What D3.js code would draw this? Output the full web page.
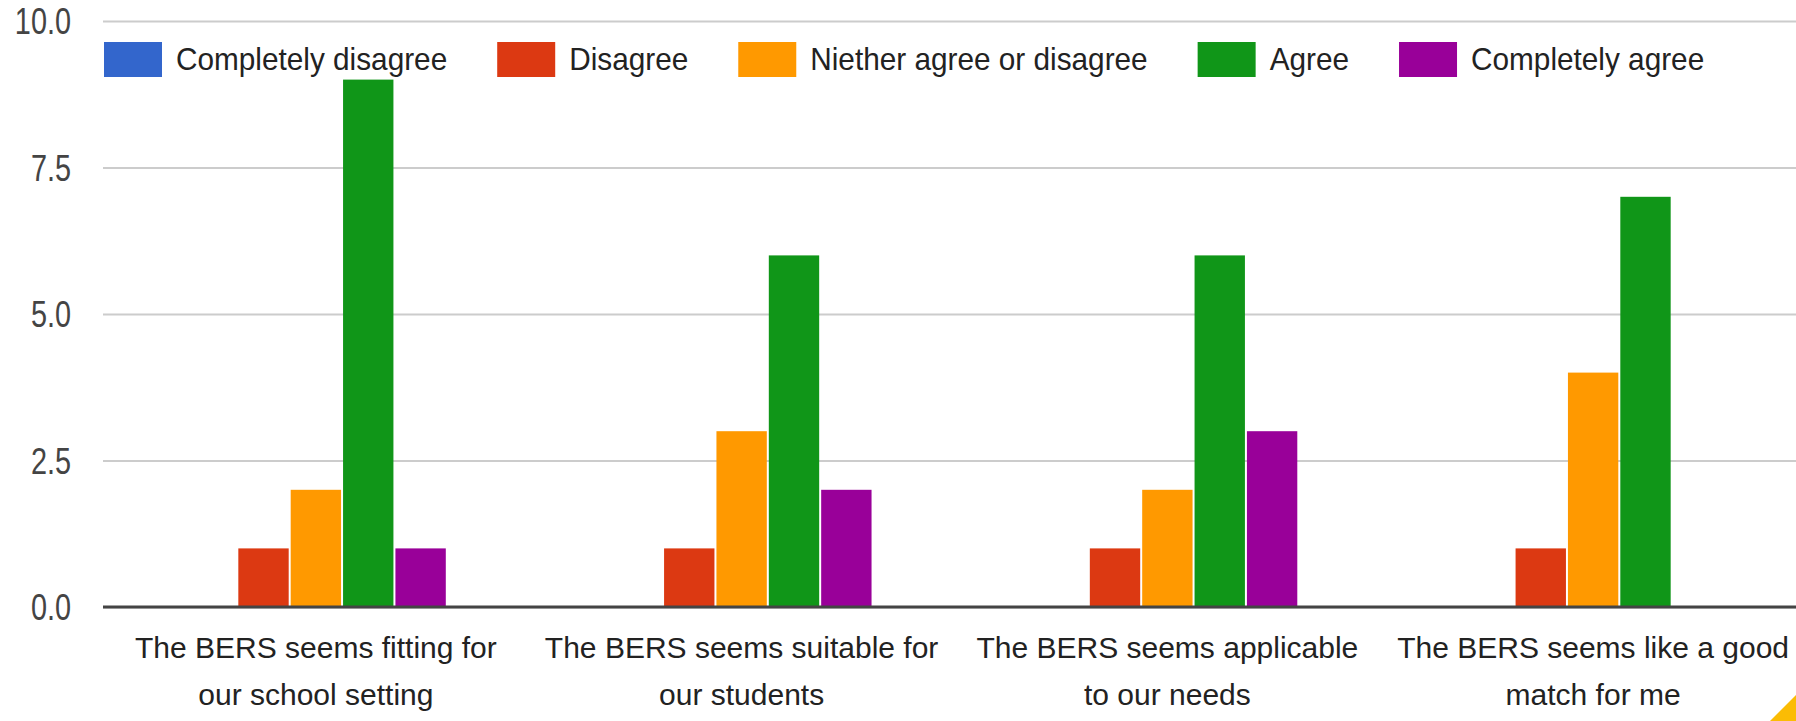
<!DOCTYPE html>
<html>
<head>
<meta charset="utf-8">
<script src="https://cdn.jsdelivr.net/npm/d3@7"></script>
<style>
  html, body { margin: 0; padding: 0; background: #ffffff; }
  svg { display: block; }
  text { font-family: "Liberation Sans", Arial, Helvetica, sans-serif; }
</style>
</head>
<body>
<svg id="chart" width="1796" height="721"></svg>
<script>
// Survey statements (two-line labels under each group)
const categories = [
  ["The BERS seems fitting for", "our school setting"],
  ["The BERS seems suitable for", "our students"],
  ["The BERS seems applicable", "to our needs"],
  ["The BERS seems like a good", "match for me"]
];

// Response options (series)
const seriesNames = [
  "Completely disagree",
  "Disagree",
  "Niether agree or disagree",
  "Agree",
  "Completely agree"
];

// Number of responses per statement, one array per response option
const completelyDisagree = [0, 0, 0, 0];
const disagree           = [1, 1, 1, 1];
const neither            = [2, 3, 2, 4];
const agree              = [9, 6, 6, 7];
const completelyAgree    = [1, 2, 3, 0];

const seriesColors = ["#3366cc", "#dc3912", "#ff9900", "#109618", "#990099"];

const yTicks = [0, 2.5, 5, 7.5, 10];

// Build rows for drawing
const seriesValues = [completelyDisagree, disagree, neither, agree, completelyAgree];
const rows = categories.map((c, i) => ({
  key: i,
  label: c,
  values: seriesNames.map((s, j) => ({ series: s, idx: j, value: seriesValues[j][i] }))
}));

const W = 1796, H = 721;
const plotLeft = 103, plotRight = 1806, plotTop = 21, plotBottom = 607;

const svg = d3.select("#chart");

svg.append("rect").attr("width", W).attr("height", H).attr("fill", "#ffffff");

const x0 = d3.scaleBand()
  .domain(rows.map(r => r.key))
  .range([plotLeft, plotRight])
  .paddingInner(0.385)
  .paddingOuter(0.1925);

const x1 = d3.scaleBand()
  .domain(d3.range(seriesNames.length))
  .range([0, x0.bandwidth()]);

const y = d3.scaleLinear().domain([0, 10]).range([plotBottom, plotTop]);

// Gridlines and tick labels (labels are set in a narrow, tall face)
const tickSqueeze = 0.78;
const yAxis = d3.axisLeft(y)
  .tickValues(yTicks)
  .tickFormat(d3.format(".1f"))
  .tickSize(-(W - plotLeft))
  .tickPadding(32);

const gy = svg.append("g")
  .attr("transform", `translate(${plotLeft},0)`)
  .call(yAxis);

gy.select(".domain").remove();
gy.selectAll(".tick line")
  .attr("stroke", "#cccccc")
  .attr("stroke-width", 2);
gy.selectAll(".tick text")
  .attr("x", -32 / tickSqueeze)
  .attr("dy", "0.35em")
  .attr("transform", `scale(${tickSqueeze},1)`)
  .attr("fill", "#444444")
  .style("font-size", "37px")
  .style("font-family", "'Liberation Sans', Arial, sans-serif");

// Bars
const groups = svg.append("g")
  .selectAll("g")
  .data(rows)
  .join("g")
  .attr("transform", d => `translate(${x0(d.key)},0)`);

groups.selectAll("rect")
  .data(d => d.values.filter(v => v.value > 0))
  .join("rect")
  .attr("x", d => x1(d.idx) + 1)
  .attr("width", x1.bandwidth() - 2)
  .attr("y", d => y(d.value))
  .attr("height", d => y(0) - y(d.value))
  .attr("fill", d => seriesColors[d.idx]);

// Baseline
svg.append("line")
  .attr("x1", plotLeft).attr("x2", W)
  .attr("y1", y(0)).attr("y2", y(0))
  .attr("stroke", "#444444")
  .attr("stroke-width", 3);

// Category labels
const catLabels = svg.append("g")
  .selectAll("text")
  .data(rows)
  .join("text")
  .attr("text-anchor", "middle")
  .attr("fill", "#222222")
  .style("font-size", "30px");

catLabels.selectAll("tspan")
  .data(d => d.label.map((t, i) => ({ t, i, cx: x0(d.key) + x0.bandwidth() / 2 })))
  .join("tspan")
  .attr("x", d => d.cx)
  .attr("y", d => 658 + d.i * 47)
  .text(d => d.t);

// Legend (flows left to right)
const legendSqueeze = 0.93;
const legend = svg.append("g");
let lx = 104;
seriesNames.forEach((name, i) => {
  legend.append("rect")
    .attr("x", lx).attr("y", 42)
    .attr("width", 58).attr("height", 35)
    .attr("fill", seriesColors[i]);
  const t = legend.append("text")
    .attr("transform", `translate(${lx + 58 + 14},69.5) scale(${legendSqueeze},1)`)
    .attr("fill", "#222222")
    .style("font-size", "32px")
    .text(name);
  lx += 58 + 14 + t.node().getComputedTextLength() * legendSqueeze + 50;
});

// Corner accent
svg.append("path")
  .attr("d", `M${W - 26},${H} L${W},${H - 26} L${W},${H} Z`)
  .attr("fill", "#fbbc04");
</script>
</body>
</html>
